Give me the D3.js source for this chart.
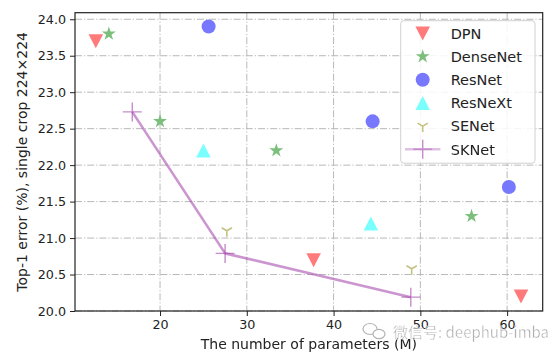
<!DOCTYPE html>
<html>
<head>
<meta charset="utf-8">
<script src="https://cdn.jsdelivr.net/npm/d3@7"></script>
<style>
  html, body { margin: 0; padding: 0; background: #fff; }
  svg { display: block; }
  text { font-family: "DejaVu Sans", sans-serif; fill: #222; }
</style>
</head>
<body>
<svg id="chart" width="560" height="357"></svg>
<script>
// ---- Data (params in M, top-1 error %) ----
const xTicks = [20, 30, 40, 50, 60];
const yTicks = [20.0, 20.5, 21.0, 21.5, 22.0, 22.5, 23.0, 23.5, 24.0];
const seriesNames = ["DPN", "DenseNet", "ResNet", "ResNeXt", "SENet", "SKNet"];
const dpnParams = [12.6, 37.7, 61.6];
const dpnError = [23.7, 20.7, 20.2];
const densenetParams = [14.1, 20.0, 33.4, 55.9];
const densenetError = [23.8, 22.6, 22.2, 21.3];
const resnetParams = [25.6, 44.5, 60.2];
const resnetError = [23.9, 22.6, 21.7];
const resnextParams = [25.0, 44.3];
const resnextError = [22.2, 21.2];
const senetParams = [27.7, 49.0];
const senetError = [21.1, 20.58];
const sknetParams = [16.8, 27.5, 48.9];
const sknetError = [22.73, 20.79, 20.19];

const colors = {
  DPN: "#ff7b7b",
  DenseNet: "#7cbf7c",
  ResNet: "#7878ff",
  ResNeXt: "#7affff",
  SENet: "#c4c280",
  SKNet: "#a040a8"
};

const svg = d3.select("#chart");
const margin = { left: 75, top: 12.7, right: 17.3, bottom: 46 };
const W = 560, H = 357;
const x = d3.scaleLinear().domain([10.2, 64.1]).range([margin.left, W - margin.right]);
const y = d3.scaleLinear().domain([20.0, 24.09]).range([H - margin.bottom, margin.top]);

// grid
const gridDash = "7,2,1.2,2";
svg.append("g").selectAll("line").data(xTicks).join("line")
  .attr("x1", d => x(d)).attr("x2", d => x(d))
  .attr("y1", y.range()[1]).attr("y2", y.range()[0])
  .attr("stroke", "#b8b8b8").attr("stroke-width", 1).attr("stroke-dasharray", gridDash);
svg.append("g").selectAll("line").data(yTicks).join("line")
  .attr("x1", x.range()[0]).attr("x2", x.range()[1])
  .attr("y1", d => y(d)).attr("y2", d => y(d))
  .attr("stroke", "#b8b8b8").attr("stroke-width", 1).attr("stroke-dasharray", gridDash);

// axes
const xAxis = d3.axisBottom(x).tickValues(xTicks).tickSize(5).tickPadding(4).tickFormat(d3.format("d"));
const yAxis = d3.axisLeft(y).tickValues(yTicks).tickSize(5).tickPadding(4).tickFormat(d3.format(".1f"));
const gx = svg.append("g").attr("transform", `translate(0,${y(20)})`).call(xAxis);
const gy = svg.append("g").attr("transform", `translate(${x.range()[0]},0)`).call(yAxis);
[gx, gy].forEach(g => {
  g.select(".domain").remove();
  g.selectAll(".tick line").attr("stroke", "#222").attr("stroke-width", 1);
  g.selectAll(".tick text").attr("fill", "#222").style("font-size", "12.7px")
    .style("font-family", "'DejaVu Sans', sans-serif");
});

// frame
svg.append("rect")
  .attr("x", x.range()[0]).attr("y", y.range()[1])
  .attr("width", x.range()[1] - x.range()[0]).attr("height", y.range()[0] - y.range()[1])
  .attr("fill", "none").attr("stroke", "#222").attr("stroke-width", 1.2);

// marker paths
const triDown = "M-7.3,-6.8L7.3,-6.8L0,7.2Z";
const triUp = "M-7.3,7L7.3,7L0,-7Z";
const star = d3.symbol(d3.symbolStar, 60)();
const tri1 = (r) => `M0,0L0,${r}M0,0L${-r*0.866},${-r*0.5}M0,0L${r*0.866},${-r*0.5}`;
const plus = (r) => `M${-r},0L${r},0M0,${-r}L0,${r}`;

function zip(a, b) { return a.map((v, i) => [v, b[i]]); }

function drawPts(pts, path, fill, stroke, sw) {
  svg.append("g").selectAll("path").data(pts).join("path")
    .attr("transform", d => `translate(${x(d[0])},${y(d[1])})`)
    .attr("d", path)
    .attr("fill", fill).attr("stroke", stroke || "none").attr("stroke-width", sw || 0);
}

// SKNet line
const sk = zip(sknetParams, sknetError);
svg.append("path").datum(sk)
  .attr("d", d3.line().x(d => x(d[0])).y(d => y(d[1])))
  .attr("fill", "none").attr("stroke", colors.SKNet).attr("stroke-opacity", 0.55)
  .attr("stroke-width", 2.6).attr("stroke-linejoin", "round");
drawPts(sk, plus(9.5), "none", colors.SKNet, 1.4);
svg.selectAll("g").filter((d, i, n) => i === n.length - 1).attr("opacity", 0.6);

drawPts(zip(dpnParams, dpnError), triDown, colors.DPN);
drawPts(zip(densenetParams, densenetError), star, colors.DenseNet);
svg.append("g").selectAll("circle").data(zip(resnetParams, resnetError)).join("circle")
  .attr("cx", d => x(d[0])).attr("cy", d => y(d[1])).attr("r", 7).attr("fill", colors.ResNet);
drawPts(zip(resnextParams, resnextError), triUp, colors.ResNeXt);
drawPts(zip(senetParams, senetError), tri1(6), "none", colors.SENet, 1.6);

// legend
const lg = svg.append("g");
lg.append("rect").attr("x", 400.7).attr("y", 20.7).attr("width", 134.3).attr("height", 142.5)
  .attr("rx", 3).attr("fill", "#fff").attr("fill-opacity", 0.85)
  .attr("stroke", "#d0d0d0").attr("stroke-width", 1);
const legendMarkers = {
  DPN: g => g.append("path").attr("d", triDown).attr("fill", colors.DPN),
  DenseNet: g => g.append("path").attr("d", star).attr("fill", colors.DenseNet),
  ResNet: g => g.append("circle").attr("r", 7).attr("fill", colors.ResNet),
  ResNeXt: g => g.append("path").attr("d", triUp).attr("fill", colors.ResNeXt),
  SENet: g => g.append("path").attr("d", tri1(6)).attr("fill", "none").attr("stroke", colors.SENet).attr("stroke-width", 1.6),
  SKNet: g => {
    const s = g.append("g").attr("opacity", 0.6);
    s.append("line").attr("x1", -17.7).attr("x2", 17.7).attr("stroke", colors.SKNet).attr("stroke-opacity", 0.55).attr("stroke-width", 2.6);
    s.append("path").attr("d", plus(9.5)).attr("fill", "none").attr("stroke", colors.SKNet).attr("stroke-width", 1.4);
  }
};
seriesNames.forEach((name, i) => {
  const cy = 33.3 + i * 23.2;
  const g = lg.append("g").attr("transform", `translate(422.7,${cy})`);
  legendMarkers[name](g);
  lg.append("text").attr("x", 450.7).attr("y", cy).attr("dy", "0.36em")
    .style("font-size", "14.5px").text(name);
});

// axis labels
svg.append("text").attr("x", (x.range()[0] + x.range()[1]) / 2).attr("y", 349)
  .attr("text-anchor", "middle").style("font-size", "14px").text("The number of parameters (M)");
svg.append("text").attr("transform", `translate(27,${(y.range()[0] + y.range()[1]) / 2}) rotate(-90)`)
  .attr("text-anchor", "middle").style("font-size", "14px").text("Top-1 error (%), single crop 224×224");

// watermark
const wm = svg.append("g").attr("opacity", 0.75);
wm.append("ellipse").attr("cx", 370).attr("cy", 329).attr("rx", 7).attr("ry", 5.5)
  .attr("fill", "none").attr("stroke", "#9a9a9a").attr("stroke-width", 1.2);
wm.append("ellipse").attr("cx", 379).attr("cy", 334).attr("rx", 6).attr("ry", 4.7)
  .attr("fill", "#fff").attr("stroke", "#9a9a9a").attr("stroke-width", 1.2);
wm.append("text").attr("x", 393).attr("y", 338)
  .style("font-family", "'Noto Sans CJK SC', sans-serif").style("font-size", "15px")
  .style("fill", "#8a8a8a").attr("stroke", "#fff").attr("stroke-width", 0.4)
  .text("微信号: deephub-imba");
</script>
</body>
</html>
